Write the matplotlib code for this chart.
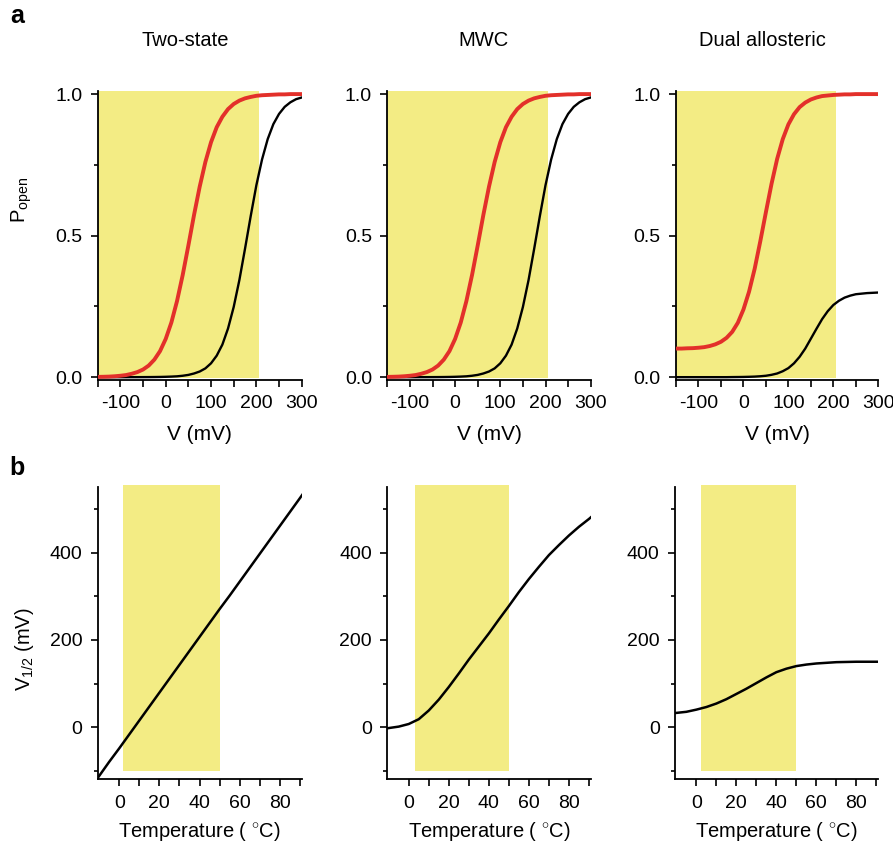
import matplotlib
matplotlib.use("Agg")
import matplotlib.pyplot as plt
from matplotlib.ticker import FixedLocator

plt.rcParams["font.family"] = ["Liberation Sans", "DejaVu Sans"]
plt.rcParams["mathtext.fontset"] = "custom"
plt.rcParams["mathtext.rm"] = "Liberation Sans"
plt.rcParams["mathtext.it"] = "Liberation Sans:italic"
plt.rcParams["axes.unicode_minus"] = False

# ------------------------------------------------------------
# Data
# ------------------------------------------------------------
titles = ["Two-state", "MWC", "Dual allosteric"]

voltage = [-150, -137.5, -125, -112.5, -100, -87.5, -75, -62.5, -50, -37.5,
           -25, -12.5, 0, 12.5, 25, 37.5, 50, 62.5, 75, 87.5,
           100, 112.5, 125, 137.5, 150, 162.5, 175, 187.5, 200, 212.5,
           225, 237.5, 250, 262.5, 275, 287.5, 300]

two_state_red = [0.001, 0.0014, 0.002, 0.0032, 0.005, 0.0075, 0.012, 0.018, 0.027, 0.041,
                 0.062, 0.092, 0.135, 0.193, 0.269, 0.361, 0.465, 0.573, 0.673, 0.760,
                 0.830, 0.883, 0.920, 0.947, 0.965, 0.977, 0.985, 0.990, 0.994, 0.996,
                 0.997, 0.998, 0.999, 0.999, 1.0, 1.0, 1.0]
two_state_black = [0.0, 0.0, 0.0, 0.0, 0.0, 0.0, 0.0001, 0.0001, 0.0002, 0.0003,
                   0.0005, 0.0008, 0.0013, 0.002, 0.003, 0.005, 0.008, 0.013, 0.020, 0.031,
                   0.049, 0.076, 0.115, 0.172, 0.248, 0.343, 0.454, 0.569, 0.678, 0.769,
                   0.841, 0.894, 0.930, 0.955, 0.971, 0.982, 0.988]

mwc_red = [0.001, 0.0014, 0.002, 0.0032, 0.005, 0.0075, 0.012, 0.018, 0.027, 0.041,
           0.062, 0.092, 0.135, 0.193, 0.269, 0.361, 0.465, 0.573, 0.673, 0.760,
           0.830, 0.883, 0.920, 0.947, 0.965, 0.977, 0.985, 0.990, 0.994, 0.996,
           0.997, 0.998, 0.999, 0.999, 1.0, 1.0, 1.0]
mwc_black = [0.0, 0.0, 0.0, 0.0, 0.0, 0.0, 0.0001, 0.0001, 0.0002, 0.0003,
             0.0005, 0.0008, 0.0013, 0.002, 0.003, 0.005, 0.008, 0.013, 0.020, 0.031,
             0.049, 0.076, 0.115, 0.172, 0.248, 0.343, 0.454, 0.569, 0.678, 0.769,
             0.841, 0.894, 0.930, 0.955, 0.971, 0.982, 0.988]

dual_red = [0.101, 0.101, 0.102, 0.1025, 0.104, 0.106, 0.110, 0.116, 0.125, 0.139,
            0.160, 0.192, 0.239, 0.302, 0.383, 0.480, 0.583, 0.683, 0.771, 0.841,
            0.893, 0.929, 0.954, 0.970, 0.981, 0.988, 0.993, 0.995, 0.997, 0.998,
            0.999, 0.999, 1.0, 1.0, 1.0, 1.0, 1.0]
dual_black = [0.0, 0.0, 0.0, 0.0, 0.0, 0.0, 0.0, 0.0, 0.0, 0.0,
              0.0003, 0.0005, 0.0008, 0.0013, 0.002, 0.0032, 0.005, 0.0083, 0.013, 0.021,
              0.032, 0.049, 0.072, 0.101, 0.136, 0.171, 0.205, 0.233, 0.255, 0.270,
              0.281, 0.288, 0.293, 0.295, 0.297, 0.298, 0.299]

temperature = [-11, -5, 0, 5, 10, 15, 20, 25, 30, 35, 40, 45, 50, 55, 60, 65, 70,
               75, 80, 85, 90, 92]

two_state_vhalf = [-119, -80, -49, -17, 15, 47, 79, 111, 143, 175, 207, 239, 271, 302,
                   334, 366, 398, 430, 462, 494, 526, 539]
mwc_vhalf = [-3, 1, 7, 18, 38, 63, 92, 123, 155, 185, 215, 247, 278, 310,
             340, 368, 395, 418, 440, 460, 478, 486]
dual_vhalf = [32, 35, 40, 46, 54, 64, 76, 88, 101, 114, 126, 134, 140, 143.5,
              146, 147.5, 149, 149.5, 150, 150, 150, 150]

# shaded (physiological) ranges
v_shade = [(-150, 205), (-150, 205), (-150, 205)]
t_shade = [(2, 50), (3, 50), (2.3, 50)]

# ------------------------------------------------------------
# Layout helpers
# ------------------------------------------------------------
W, H = 893, 843
YELLOW = "#F3EC84"
RED = "#E3302A"


def px_axes(fig, left, top, right, bottom):
    return fig.add_axes([left / W, 1 - bottom / H, (right - left) / W, (bottom - top) / H])


def style_axes(ax):
    for side in ("top", "right"):
        ax.spines[side].set_visible(False)
    for side in ("left", "bottom"):
        ax.spines[side].set_linewidth(1.3)
    ax.tick_params(which="both", direction="out", width=1.2, labelsize=14, pad=6)
    ax.tick_params(which="major", length=5)
    ax.tick_params(which="minor", length=3)
    ax.tick_params(axis="x", which="minor", length=5)


fig = plt.figure(figsize=(W / 100, H / 100), dpi=100)

top_left = [97.7, 387.3, 676]
top_right = [301.7, 590.7, 878.3]
bot_left = [97.7, 387.3, 675]
bot_right = [302, 591, 878.3]

reds = [two_state_red, mwc_red, dual_red]
blacks = [two_state_black, mwc_black, dual_black]
vhalfs = [two_state_vhalf, mwc_vhalf, dual_vhalf]
title_x = [185, 483, 762]

for i in range(3):
    # ---- row a: P_open vs V ----
    ax = px_axes(fig, top_left[i], 90.7, top_right[i], 380)
    ax.set_xlim(-150, 300)
    ax.set_ylim(-0.01, 1.012)
    ax.fill_between(v_shade[i], -0.004, 1.012, color=YELLOW, lw=0, zorder=0)
    ax.plot(voltage, blacks[i], color="black", lw=1.7, zorder=2)
    ax.plot(voltage, reds[i], color=RED, lw=2.8, zorder=3)
    ax.set_xticks([-100, 0, 100, 200, 300])
    ax.xaxis.set_minor_locator(FixedLocator([-150, -50, 50, 150, 250]))
    ax.set_yticks([0.0, 0.5, 1.0])
    ax.set_yticklabels(["0.0", "0.5", "1.0"])
    ax.yaxis.set_minor_locator(FixedLocator([0.25, 0.75]))
    style_axes(ax)
    ax.set_xlabel("V (mV)", fontsize=15, labelpad=9)
    fig.text(title_x[i] / W, 1 - 41 / H, titles[i], fontsize=14.5, ha="center", va="center")

    # ---- row b: V1/2 vs temperature ----
    bx = px_axes(fig, bot_left[i], 486.7, bot_right[i], 779.3)
    bx.set_xlim(-10.7, 91)
    bx.set_ylim(-120, 552)
    bx.fill_between(t_shade[i], -102, 555, color=YELLOW, lw=0, zorder=0, clip_on=False)
    bx.plot(temperature, vhalfs[i], color="black", lw=1.8, zorder=2)
    bx.set_xticks([0, 20, 40, 60, 80])
    bx.xaxis.set_minor_locator(FixedLocator([10, 30, 50, 70, 90]))
    bx.set_yticks([0, 200, 400])
    bx.yaxis.set_minor_locator(FixedLocator([-100, 100, 300, 500]))
    style_axes(bx)
    bx.set_xlabel("Temperature ( $^{\\circ}$C)", fontsize=14.5, labelpad=6)

fig.text(22 / W, 1 - 200 / H, r"P$_{\mathrm{open}}$", fontsize=14.5, rotation=90,
         ha="center", va="center")
fig.text(24 / W, 1 - 649 / H, r"V$_{\mathrm{1/2}}$ (mV)", fontsize=14.5, rotation=90,
         ha="center", va="center")
fig.text(17 / W, 1 - 16 / H, "a", fontsize=18, fontweight="bold", ha="center", va="center")
fig.text(17 / W, 1 - 468 / H, "b", fontsize=18, fontweight="bold", ha="center", va="center")

fig.savefig("out.png", dpi=100)
